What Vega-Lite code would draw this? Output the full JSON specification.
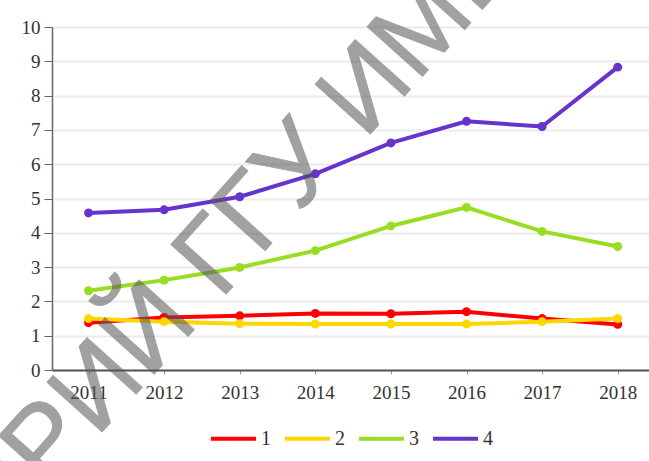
{
  "$schema": "https://vega.github.io/schema/vega-lite/v6.json",
  "width": 597,
  "height": 343,
  "autosize": {"type": "none"},
  "padding": {"left": 52, "top": 27, "right": 0, "bottom": 91},
  "config": {
    "view": {"stroke": null},
    "font": "Liberation Serif",
    "axis": {"labelFont": "Liberation Serif"},
    "legend": {"labelFont": "Liberation Serif", "layout": {"bottom": {"anchor": "middle"}}}
  },
  "layer": [
    {
      "data": {
        "values": [
          {"year": 2011, "series": "1", "value": 1.38},
          {"year": 2012, "series": "1", "value": 1.53},
          {"year": 2013, "series": "1", "value": 1.58},
          {"year": 2014, "series": "1", "value": 1.65},
          {"year": 2015, "series": "1", "value": 1.64},
          {"year": 2016, "series": "1", "value": 1.7},
          {"year": 2017, "series": "1", "value": 1.5},
          {"year": 2018, "series": "1", "value": 1.33},
          {"year": 2011, "series": "2", "value": 1.5},
          {"year": 2012, "series": "2", "value": 1.41},
          {"year": 2013, "series": "2", "value": 1.35},
          {"year": 2014, "series": "2", "value": 1.34},
          {"year": 2015, "series": "2", "value": 1.34},
          {"year": 2016, "series": "2", "value": 1.34},
          {"year": 2017, "series": "2", "value": 1.41},
          {"year": 2018, "series": "2", "value": 1.5},
          {"year": 2011, "series": "3", "value": 2.31},
          {"year": 2012, "series": "3", "value": 2.62},
          {"year": 2013, "series": "3", "value": 2.99},
          {"year": 2014, "series": "3", "value": 3.48},
          {"year": 2015, "series": "3", "value": 4.2},
          {"year": 2016, "series": "3", "value": 4.74},
          {"year": 2017, "series": "3", "value": 4.04},
          {"year": 2018, "series": "3", "value": 3.6},
          {"year": 2011, "series": "4", "value": 4.58},
          {"year": 2012, "series": "4", "value": 4.67},
          {"year": 2013, "series": "4", "value": 5.05},
          {"year": 2014, "series": "4", "value": 5.72},
          {"year": 2015, "series": "4", "value": 6.62},
          {"year": 2016, "series": "4", "value": 7.25},
          {"year": 2017, "series": "4", "value": 7.1},
          {"year": 2018, "series": "4", "value": 8.83}
        ]
      },
      "mark": {"type": "line", "strokeWidth": 4, "point": {"filled": true, "size": 80}},
      "encoding": {
        "x": {
          "field": "year",
          "type": "quantitative",
          "scale": {"domain": [2010.517, 2018.414], "nice": false, "zero": false},
          "axis": {
            "title": null,
            "values": [2011, 2012, 2013, 2014, 2015, 2016, 2017, 2018],
            "format": "d",
            "grid": false,
            "labelOverlap": false,
            "domainColor": "#555555",
            "domainWidth": 2,
            "tickColor": "#999999",
            "tickSize": 4,
            "labelFont": "Liberation Serif",
            "labelFontSize": 19,
            "labelColor": "#333333",
            "labelPadding": 9
          }
        },
        "y": {
          "field": "value",
          "type": "quantitative",
          "scale": {"domain": [0, 10], "nice": false},
          "axis": {
            "title": null,
            "values": [0, 1, 2, 3, 4, 5, 6, 7, 8, 9, 10],
            "labelOverlap": false,
            "grid": true,
            "gridColor": "#ebebeb",
            "gridWidth": 2,
            "domainColor": "#666666",
            "domainWidth": 1.5,
            "tickColor": "#666666",
            "tickSize": 8,
            "labelFont": "Liberation Serif",
            "labelFontSize": 19,
            "labelColor": "#333333",
            "labelPadding": 4
          }
        },
        "color": {
          "field": "series",
          "type": "nominal",
          "scale": {"domain": ["1", "2", "3", "4"], "range": ["#ff0000", "#ffd700", "#99dd22", "#6633cc"]},
          "legend": {
            "title": null,
            "orient": "bottom",
            "direction": "horizontal",
            "symbolType": "stroke",
            "symbolSize": 2025,
            "symbolStrokeWidth": 4,
            "labelFont": "Liberation Serif",
            "labelFontSize": 20,
            "labelColor": "#333333",
            "labelOffset": 3,
            "columnPadding": 6,
            "offset": 12
          }
        }
      }
    },
    {
      "data": {"values": [{"label": "ТОРИЙ ГГУ ИМЕНИ"}]},
      "mark": {
        "type": "text",
        "font": "Liberation Sans",
        "fontSize": 108,
        "angle": -48,
        "align": "center",
        "baseline": "middle",
        "color": "#555555",
        "stroke": "#555555",
        "strokeWidth": 1,
        "opacity": 0.55
      },
      "encoding": {
        "x": {
          "datum": 2013.35,
          "type": "quantitative",
          "axis": {
            "title": null,
            "values": [2011, 2012, 2013, 2014, 2015, 2016, 2017, 2018],
            "format": "d",
            "grid": false,
            "labelOverlap": false,
            "domainColor": "#555555",
            "domainWidth": 2,
            "tickColor": "#999999",
            "tickSize": 4,
            "labelFont": "Liberation Serif",
            "labelFontSize": 19,
            "labelColor": "#333333",
            "labelPadding": 9
          }
        },
        "y": {
          "datum": 4.9,
          "type": "quantitative",
          "axis": {
            "title": null,
            "values": [0, 1, 2, 3, 4, 5, 6, 7, 8, 9, 10],
            "labelOverlap": false,
            "grid": true,
            "gridColor": "#ebebeb",
            "gridWidth": 2,
            "domainColor": "#666666",
            "domainWidth": 1.5,
            "tickColor": "#666666",
            "tickSize": 8,
            "labelFont": "Liberation Serif",
            "labelFontSize": 19,
            "labelColor": "#333333",
            "labelPadding": 4
          }
        },
        "text": {"field": "label"}
      }
    }
  ]
}
